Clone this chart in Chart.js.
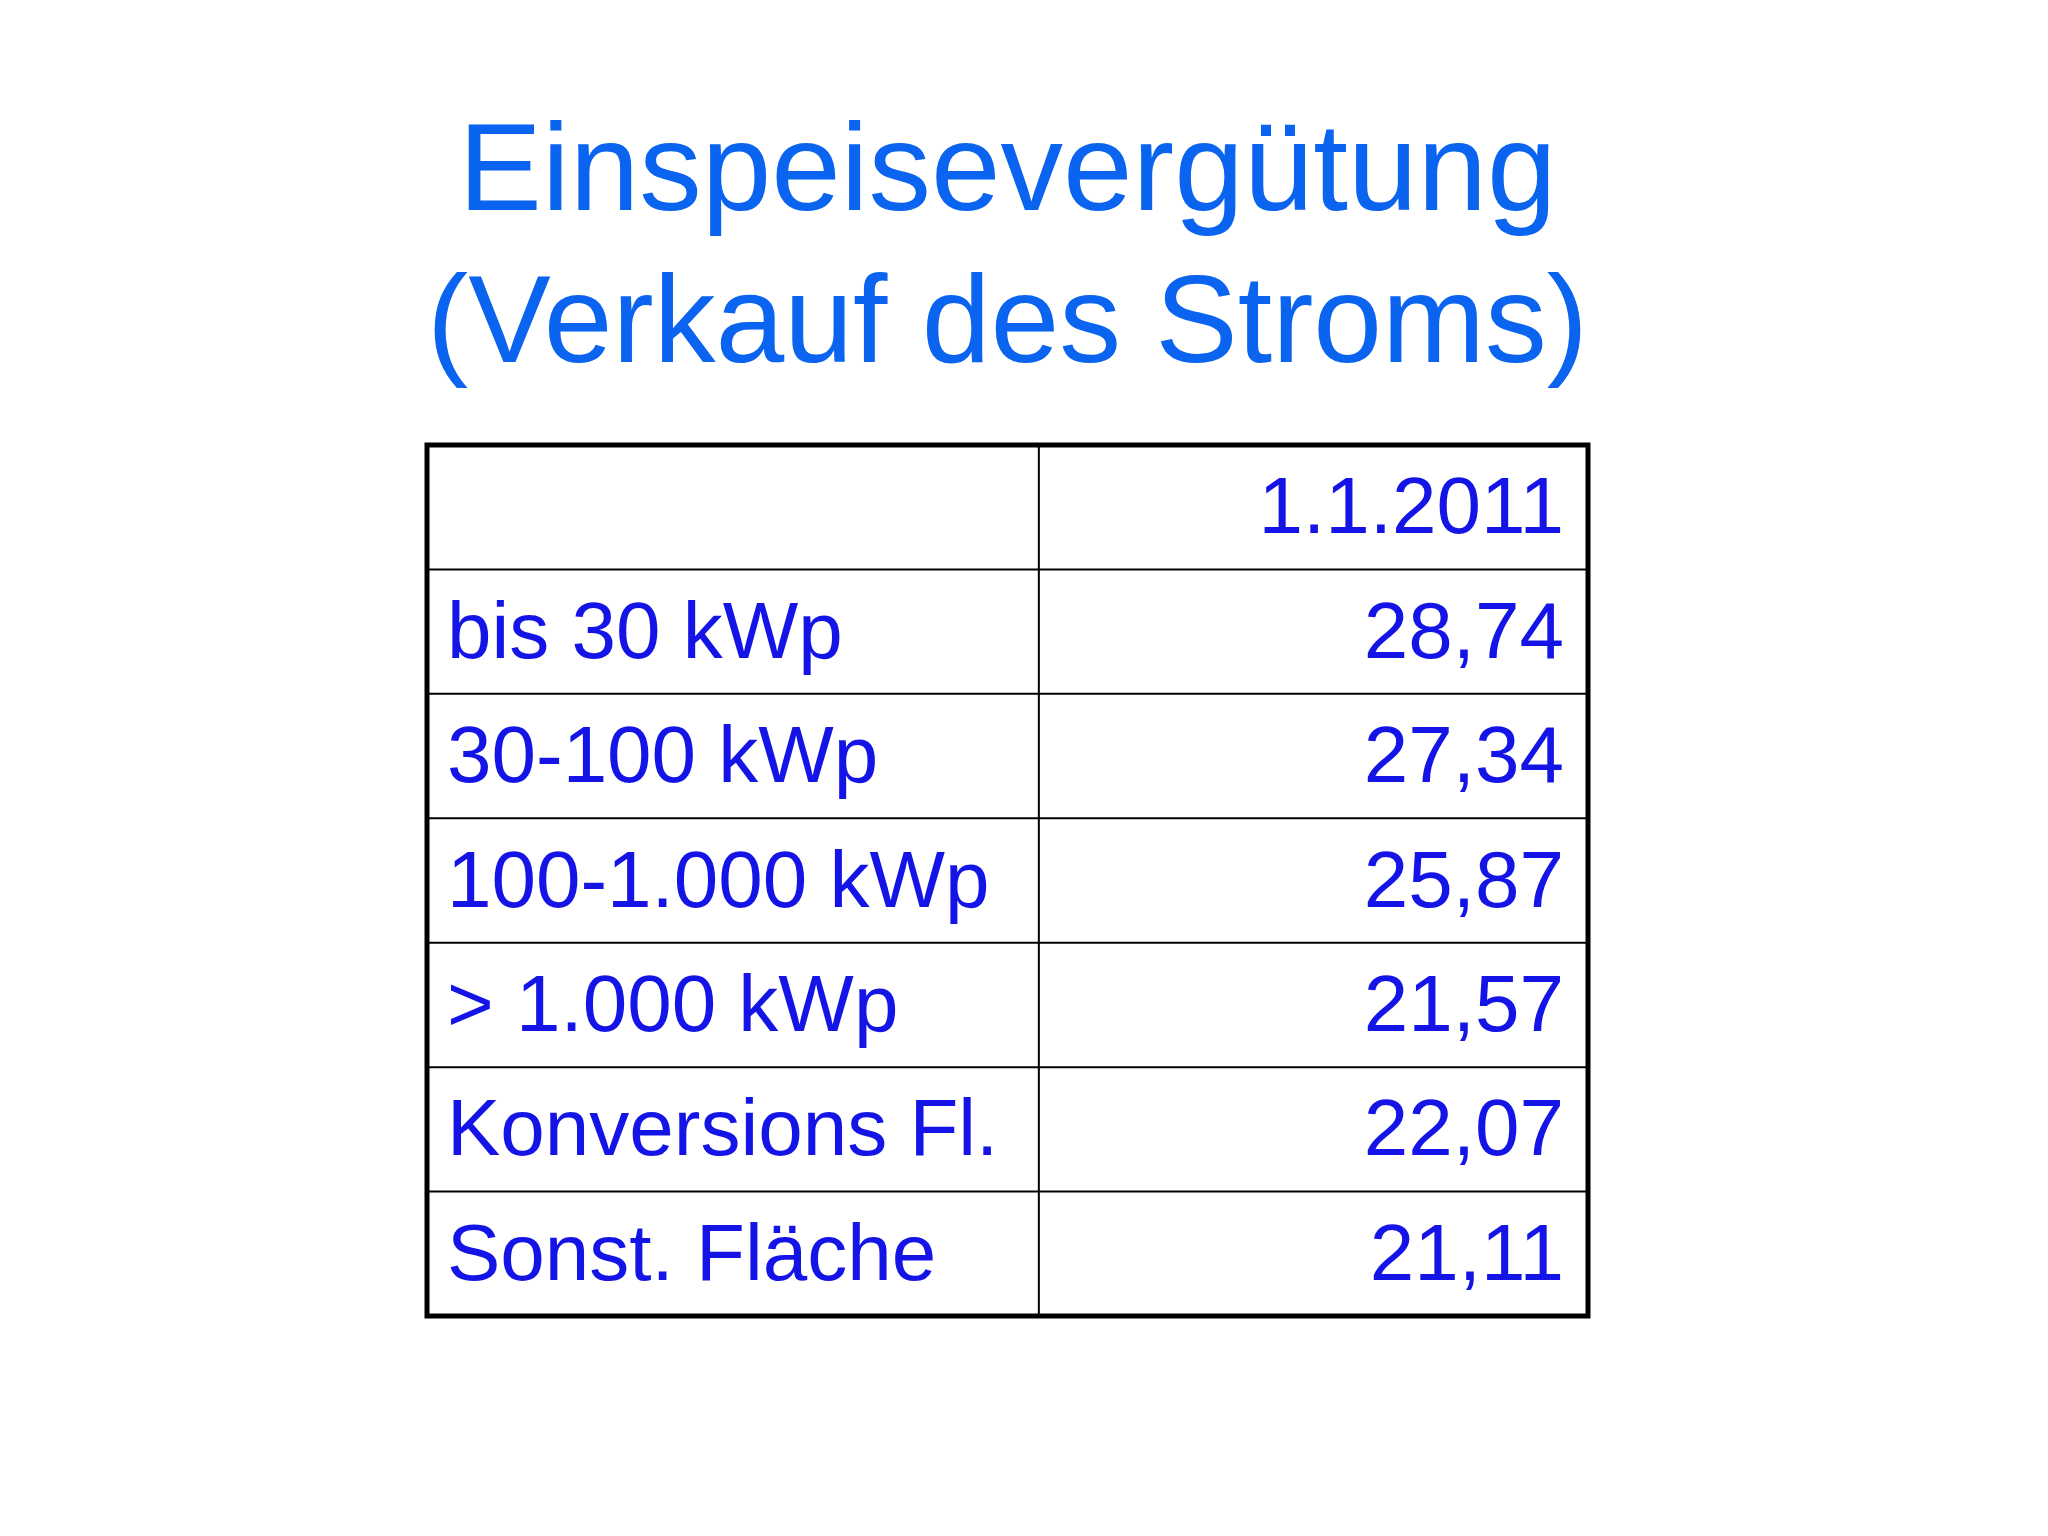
<!DOCTYPE html>
<html><head><meta charset="utf-8">
<script src="https://cdn.jsdelivr.net/npm/chart.js@4"></script>
<style>html,body{margin:0;padding:0;background:#fff}</style>
</head><body>
<canvas id="c" width="2048" height="1536"></canvas>
<script>
const titleLines = ['Einspeisevergütung', '(Verkauf des Stroms)'];
const headerLabel = '1.1.2011';
const categories = ['bis 30 kWp', '30-100 kWp', '100-1.000 kWp', '> 1.000 kWp', 'Konversions Fl.', 'Sonst. Fläche'];
const values = [28.74, 27.34, 25.87, 21.57, 22.07, 21.11];

const rows = [''].concat(categories);
const rowVals = [null].concat(values);
const fmt = v => v.toLocaleString('de-DE', {minimumFractionDigits: 2, maximumFractionDigits: 2});

const tablePlugin = {
  id: 'table',
  afterDraw(chart) {
    const ctx = chart.ctx, y = chart.scales.y, a = chart.chartArea;
    const n = rows.length;
    const band = (a.bottom - a.top) / n;
    const split = a.left + (a.right - a.left) * 0.527;
    ctx.save();
    ctx.strokeStyle = '#000';
    ctx.lineWidth = 2;
    for (let i = 1; i < n; i++) {
      const yy = y.getPixelForValue(i) - band / 2;
      ctx.beginPath(); ctx.moveTo(a.left, yy); ctx.lineTo(a.right, yy); ctx.stroke();
    }
    ctx.beginPath(); ctx.moveTo(split, a.top); ctx.lineTo(split, a.bottom); ctx.stroke();
    ctx.lineWidth = 5;
    ctx.strokeRect(a.left, a.top, a.right - a.left, a.bottom - a.top);
    ctx.fillStyle = '#1414e6';
    ctx.font = '80px "Liberation Sans", Arial, sans-serif';
    ctx.textBaseline = 'middle';
    for (let i = 0; i < n; i++) {
      const yy = y.getPixelForValue(i) + 4;
      ctx.textAlign = 'left';
      ctx.fillText(rows[i], a.left + 20, yy);
      ctx.textAlign = 'right';
      ctx.fillText(i === 0 ? headerLabel : fmt(rowVals[i]), a.right - 24, yy);
    }
    ctx.restore();
  }
};

new Chart(document.getElementById('c'), {
  type: 'bar',
  data: { labels: rows, datasets: [{ data: rowVals, backgroundColor: 'rgba(0,0,0,0)' }] },
  options: {
    indexAxis: 'y',
    responsive: false,
    animation: false,
    layout: { padding: { left: 427, right: 460, bottom: 220, top: 0 } },
    plugins: {
      legend: { display: false },
      tooltip: { enabled: false },
      title: {
        display: true,
        text: titleLines,
        color: '#0a64f0',
        font: { size: 125, family: '"Liberation Sans", Arial, sans-serif', weight: 'normal', lineHeight: 1.22 },
        padding: { top: 99, bottom: 41 }
      }
    },
    scales: {
      x: { display: false, min: 0, max: 30 },
      y: { display: false }
    }
  },
  plugins: [tablePlugin]
});
</script>
</body></html>
